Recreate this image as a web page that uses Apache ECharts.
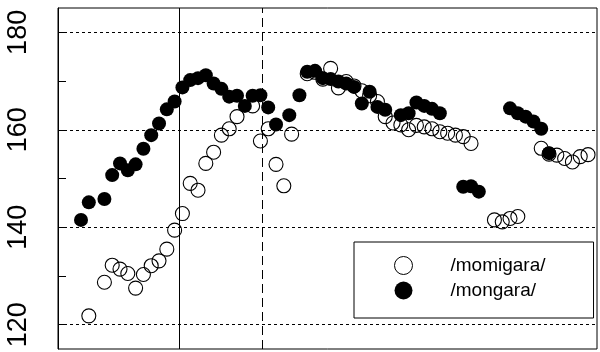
<!DOCTYPE html>
<html>
<head>
<meta charset="utf-8">
<script src="https://cdn.jsdelivr.net/npm/echarts@6/dist/echarts.min.js"></script>
<style>html,body{margin:0;padding:0;background:#fff}#c{width:600px;height:352px}</style>
</head>
<body>
<div id="c"></div>
<script>
const seriesNames = ['/momigara/', '/mongara/'];
const momigaraX = [1,3,4,5,6,7,8,9,10,11,12,13,14,15,16,17,18,19,20,22,23,24,25,26,27,29,30,31,32,33,34,35,36,37,38,39,40,41,42,43,44,45,46,47,48,49,50,53,54,55,56,59,60,61,62,63,64,65];
const momigaraY = [121.8,128.7,132.2,131.4,130.5,127.5,130.3,132.1,133.1,135.5,139.4,142.8,149.0,147.6,153.1,155.4,158.9,160.2,162.7,164.9,157.7,160.2,152.9,148.5,159.1,171.5,171.8,170.4,172.6,168.6,169.9,169.0,168.0,167.0,165.8,162.7,161.4,161.0,160.0,160.9,160.6,160.2,159.6,159.3,158.9,158.6,157.2,141.5,141.1,141.8,142.2,156.2,155.0,154.8,154.1,153.4,154.5,154.9];
const mongaraX = [0,1,3,4,5,6,7,8,9,10,11,12,13,14,15,16,17,18,19,20,21,22,23,24,25,26.7,28,29,30,31,32,33,34,35,36,37,38,39,41,42,43,44,45,46,49,50,51,55,56,57,58,59,60];
const mongaraY = [141.5,145.1,145.8,150.7,153.1,151.7,152.9,156.1,158.9,161.3,164.2,165.8,168.7,170.2,170.6,171.2,169.5,168.4,166.8,167.0,164.9,167.0,167.1,164.6,161.1,163.0,167.1,171.9,172.1,170.6,170.4,169.9,169.5,168.8,165.4,167.8,164.7,164.1,163.0,163.4,165.6,164.9,164.3,163.4,148.3,148.4,147.3,164.4,163.4,162.7,161.7,160.2,155.2];
const yTickValues = [120,130,140,150,160,170,180];
const yLabelValues = [120,140,160,180];
const gridLineValues = [120,140,160,180];
const solidLineX = 12.63;
const dashedLineX = 23.24;

const pair = (xs, ys) => xs.map((x, i) => [x, ys[i]]);
const FONT = 'Liberation Sans, Arial, Helvetica, sans-serif';

const chart = echarts.init(document.getElementById('c'), null, {renderer: 'canvas'});
chart.setOption({
  animation: false,
  backgroundColor: '#fff',
  grid: {left: 58, right: 3, top: 8, bottom: 3, show: true, borderColor: '#000', borderWidth: 1, backgroundColor: 'transparent'},
  xAxis: {type: 'value', min: -2.95, max: 66.15, show: false},
  yAxis: {
    type: 'value', min: 115, max: 185, position: 'left',
    axisLine: {show: true, onZero: false, lineStyle: {color: '#000', width: 1}},
    axisTick: {show: true, length: 8, inside: true, customValues: yTickValues, lineStyle: {color: '#000'}},
    axisLabel: {show: true, customValues: yLabelValues, rotate: 90, margin: 26, color: '#000', fontSize: 27, fontFamily: FONT},
    splitLine: {show: false}
  },
  legend: {
    left: 354, top: 242,
    orient: 'vertical',
    padding: [14, 48, 18, 40],
    itemWidth: 18, itemHeight: 18, itemGap: 6,
    backgroundColor: '#fff', borderColor: '#000', borderWidth: 1, borderRadius: 0,
    textStyle: {fontSize: 19, fontFamily: FONT, color: '#000', padding: [0, 0, 0, 33], lineHeight: 18},
    data: [
      {name: seriesNames[0], icon: 'circle', itemStyle: {color: '#fff', borderColor: '#000', borderWidth: 1}},
      {name: seriesNames[1], icon: 'circle', itemStyle: {color: '#000'}}
    ]
  },
  series: [
    {
      type: 'scatter', name: 'lines', data: [], z: 1, silent: true,
      markLine: {
        silent: true, symbol: 'none', label: {show: false}, animation: false,
        data: [
          ...gridLineValues.map(v => ({yAxis: v, lineStyle: {color: '#000', width: 1, type: [3, 3]}})),
          {xAxis: solidLineX, lineStyle: {color: '#000', width: 1, type: 'solid'}},
          {xAxis: dashedLineX, lineStyle: {color: '#000', width: 1, type: [9, 5]}}
        ]
      }
    },
    {
      type: 'scatter', name: seriesNames[0], z: 3,
      data: pair(momigaraX, momigaraY),
      symbol: 'circle', symbolSize: 14,
      itemStyle: {color: 'rgba(255,255,255,0)', borderColor: '#000', borderWidth: 1.1, opacity: 1}
    },
    {
      type: 'scatter', name: seriesNames[1], z: 4,
      data: pair(mongaraX, mongaraY),
      symbol: 'circle', symbolSize: 14,
      itemStyle: {color: '#000', opacity: 1}
    }
  ]
});
</script>
</body>
</html>
